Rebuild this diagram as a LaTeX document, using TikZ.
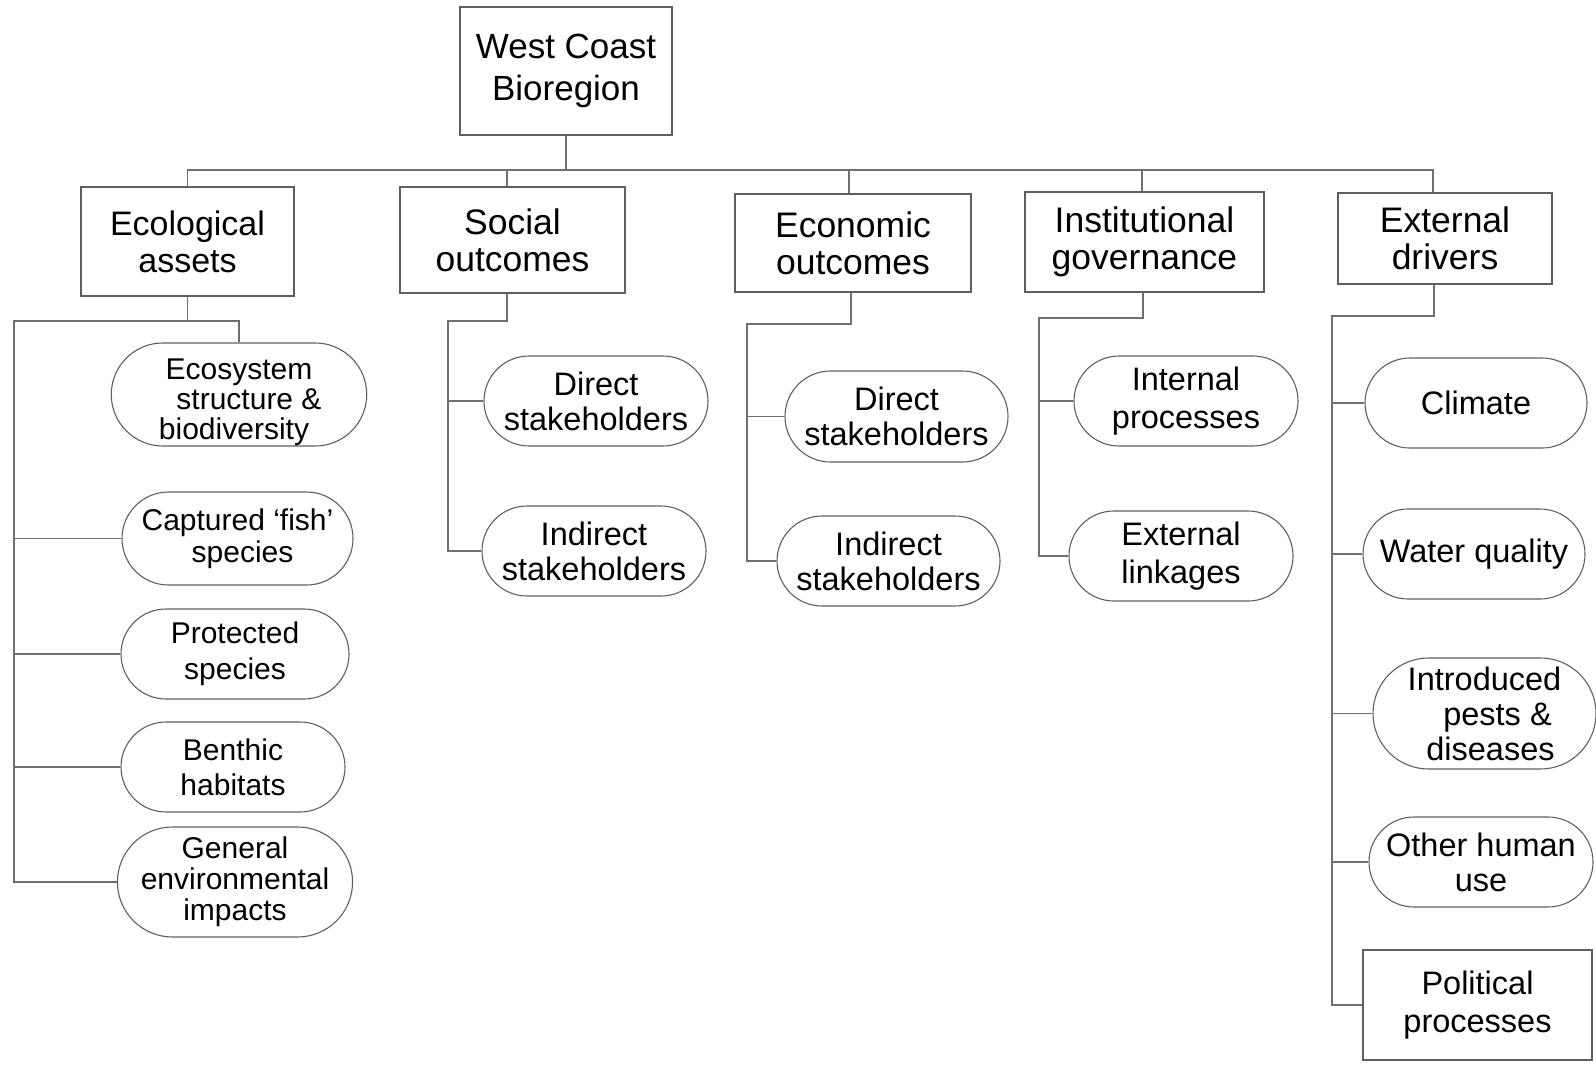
\documentclass[tikz,border=0pt]{standalone}
\usepackage{fontspec}
\setmainfont{Liberation Sans}
\usetikzlibrary{shapes.misc}
\definecolor{lc}{RGB}{112,112,112}
\definecolor{bc}{RGB}{95,95,95}
\begin{document}
\begin{tikzpicture}[x=1pt,y=-1pt,
  topbox/.style={draw=bc, line width=1.4pt, rectangle, inner sep=0pt, align=center, font=\fontsize{35}{42}\selectfont},
  midbox/.style={draw=bc, line width=1.4pt, rectangle, inner sep=0pt, align=center, font=\fontsize{34}{37}\selectfont},
  leaf/.style={draw=bc, line width=1.1pt, rounded rectangle, inner sep=0pt, align=center, font=\fontsize{32.5}{35}\selectfont},
  ecoleaf/.style={leaf, font=\fontsize{30}{32}\selectfont},
  conn/.style={draw=lc, line width=1.4pt}]
\useasboundingbox (0,0) rectangle (1596,1065);
% top
\node[topbox, minimum width=212pt, minimum height=128pt] (wc) at (566,71) {West Coast\\Bioregion};
% level 2
\node[midbox, minimum width=213pt, minimum height=109pt] (eco) at (187.5,241.5) {Ecological\\assets};
\node[midbox, minimum width=225pt, minimum height=106pt, font=\fontsize{35.5}{37}\selectfont] (soc) at (512.5,240) {Social\\outcomes};
\node[midbox, minimum width=236pt, minimum height=98pt, font=\fontsize{35.5}{37}\selectfont] (econ) at (853,243) {Economic\\outcomes};
\node[midbox, minimum width=239pt, minimum height=100pt, font=\fontsize{35.5}{37}\selectfont] (inst) at (1144.5,242) {Institutional\\governance};
\node[midbox, minimum width=214pt, minimum height=91pt, font=\fontsize{35.5}{37}\selectfont] (ext) at (1445,238.5) {External\\drivers};
% ecological leaves
\node[ecoleaf, minimum width=254pt, minimum height=103pt, font=\fontsize{30}{30}\selectfont] (es) at (239,394.5) {\rule{0pt}{36pt}Ecosystem\\\hspace*{20pt}structure \&\\biodiversity\hspace*{10pt}};
\node[ecoleaf, minimum width=231pt, minimum height=93pt] (cf) at (237.5,538.5) {Captured ‘fish’\\\hspace*{10pt}species};
\node[ecoleaf, minimum width=228pt, minimum height=90pt, font=\fontsize{30}{36}\selectfont] (ps) at (235,654) {Protected\\species};
\node[ecoleaf, minimum width=224pt, minimum height=90pt, font=\fontsize{30}{35}\selectfont] (bh) at (233,767) {Benthic\\habitats};
\node[ecoleaf, minimum width=226pt, minimum height=110pt, font=\fontsize{30}{31}\selectfont] (ge) at (235,882) {General\\environmental\\impacts};
% social leaves
\node[leaf, minimum width=224pt, minimum height=90pt] (ds1) at (596,401) {Direct\\stakeholders};
\node[leaf, minimum width=224pt, minimum height=90pt] (is1) at (594,551) {Indirect\\stakeholders};
% economic leaves
\node[leaf, minimum width=223pt, minimum height=91pt] (ds2) at (896.5,416.5) {Direct\\stakeholders};
\node[leaf, minimum width=223pt, minimum height=90pt] (is2) at (888.5,561) {Indirect\\stakeholders};
% institutional leaves
\node[leaf, minimum width=224pt, minimum height=90pt, font=\fontsize{32.5}{38}\selectfont] (ip) at (1186,401) {Internal\\processes};
\node[leaf, minimum width=224pt, minimum height=90pt, font=\fontsize{32.5}{38}\selectfont] (el) at (1181,556) {External\\linkages};
% external leaves
\node[leaf, minimum width=222pt, minimum height=90pt] (cl) at (1476,403) {Climate};
\node[leaf, minimum width=222pt, minimum height=90pt] (wq) at (1474,554) {Water quality};
\node[leaf, minimum width=223pt, minimum height=111pt] (ipd) at (1484.5,713.5) {Introduced\\\hspace*{26pt}pests \&\\\hspace*{12pt}diseases};
\node[leaf, minimum width=224pt, minimum height=90pt] (oh) at (1481,862) {Other human\\use};
\node[topbox, line width=1.1pt, minimum width=229pt, minimum height=110pt, font=\fontsize{32.5}{38}\selectfont] (pp) at (1477.5,1005) {Political\\processes};
% top connectors
\coordinate (bus) at (0,170);
\draw[conn] (wc.south) -- (wc.south |- bus);
\draw[conn] (eco.north) -- (eco.north |- bus) -- ([xshift=-12pt]ext.north |- bus) -- ([xshift=-12pt]ext.north);
\draw[conn] ([xshift=-5.5pt]soc.north) -- ([xshift=-5.5pt]soc.north |- bus);
\draw[conn] ([xshift=-4pt]econ.north) -- ([xshift=-4pt]econ.north |- bus);
\draw[conn] ([xshift=-2.5pt]inst.north) -- ([xshift=-2.5pt]inst.north |- bus);
% ecological connectors
\coordinate (ej) at (14,321);
\draw[conn] (eco.south) -- (eco.south |- ej);
\draw[conn] (es.north) -- (es.north |- ej) -- (ej) -- (ej |- ge.west) -- (ge.west);
\draw[conn] (ej |- cf.west) -- (cf.west);
\draw[conn] (ej |- ps.west) -- (ps.west);
\draw[conn] (ej |- bh.west) -- (bh.west);
% social connectors
\coordinate (sj) at (448,321);
\draw[conn] ([xshift=-5.5pt]soc.south) -- ([xshift=-5.5pt]soc.south |- sj) -- (sj) -- (sj |- is1.west) -- (is1.west);
\draw[conn] (sj |- ds1.west) -- (ds1.west);
% economic connectors
\coordinate (cj) at (747,324);
\draw[conn] ([xshift=-2pt]econ.south) -- ([xshift=-2pt]econ.south |- cj) -- (cj) -- (cj |- is2.west) -- (is2.west);
\draw[conn] (cj |- ds2.west) -- (ds2.west);
% institutional connectors
\coordinate (ij) at (1039,318);
\draw[conn] ([xshift=-1.5pt]inst.south) -- ([xshift=-1.5pt]inst.south |- ij) -- (ij) -- (ij |- el.west) -- (el.west);
\draw[conn] (ij |- ip.west) -- (ip.west);
% external connectors
\coordinate (xj) at (1332,316);
\draw[conn] ([xshift=-11pt]ext.south) -- ([xshift=-11pt]ext.south |- xj) -- (xj) -- (xj |- pp.west) -- (pp.west);
\draw[conn] (xj |- cl.west) -- (cl.west);
\draw[conn] (xj |- wq.west) -- (wq.west);
\draw[conn] (xj |- ipd.west) -- (ipd.west);
\draw[conn] (xj |- oh.west) -- (oh.west);
\end{tikzpicture}
\end{document}
